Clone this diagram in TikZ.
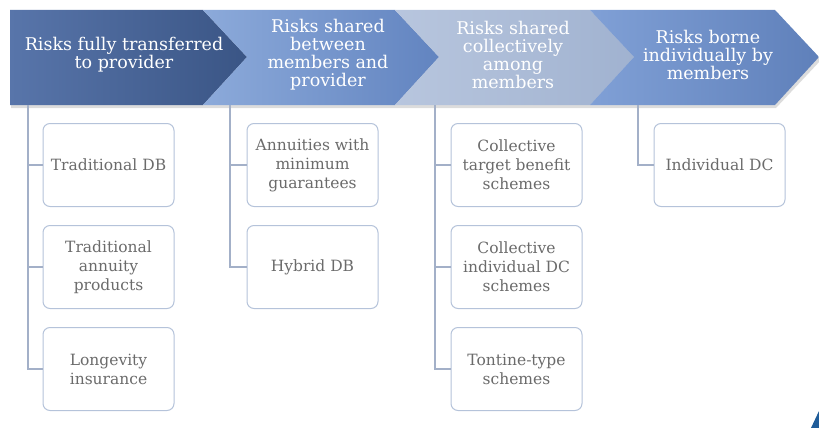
\documentclass[tikz,border=0pt]{standalone}
\usepackage{fontspec}
\setmainfont{DejaVu Serif}

\definecolor{boxline}{HTML}{B5C3DA}
\definecolor{itemtext}{HTML}{6B6B6B}
\definecolor{tieline}{HTML}{A3B0C8}
\definecolor{logoblue}{HTML}{1F5C99}

\begin{document}
\begin{tikzpicture}[
        x=1pt, y=-1pt,
        chevron/.style={draw=none},
        header/.style={text=white, align=center, font=\fontsize{17.5}{18}\selectfont},
        item/.style={rectangle, draw=boxline, line width=1pt, fill=white, rounded corners=7pt, minimum width=131pt, minimum height=83pt, align=center, text=itemtext, font=\fontsize{15.5}{19}\selectfont},
        tie/.style={draw=tieline, line width=1.2pt}
    ]
        \useasboundingbox (0,0) rectangle (819,428);
        \clip (0,0) rectangle (819,428);

        % Header band
        \fill[gray!60, opacity=0.45] (11,13) -- (776,13) -- (821,60) -- (776,108) -- (11,108) -- cycle;
        \shade[chevron, left color={rgb,255:red,88;green,117;blue,170}, right color={rgb,255:red,58;green,85;blue,133}]
            (10,10) -- (203,10) -- (247,57) -- (203,105) -- (10,105) -- cycle;
        \shade[chevron, left color={rgb,255:red,140;green,170;blue,218}, right color={rgb,255:red,98;green,132;blue,192}]
            (203,10) -- (395,10) -- (439,57) -- (395,105) -- (203,105) -- (247,57) -- cycle;
        \shade[chevron, left color={rgb,255:red,184;green,198;blue,222}, right color={rgb,255:red,160;green,178;blue,208}]
            (395,10) -- (590,10) -- (634,57) -- (590,105) -- (395,105) -- (439,57) -- cycle;
        \shade[chevron, left color={rgb,255:red,128;green,160;blue,214}, right color={rgb,255:red,95;green,128;blue,186}]
            (590,10) -- (775,10) -- (819,57) -- (775,105) -- (590,105) -- (634,57) -- cycle;

        \node[header] (h1) at (124,55) {Risks fully transferred\\to provider};
        \node[header] (h2) at (328,55) {Risks shared\\between\\members and\\provider};
        \node[header] (h3) at (513,55) {Risks shared\\collectively\\among\\members};
        \node[header] (h4) at (708,55) {Risks borne\\individually by\\members};

        % Column 1: fully transferred
        \coordinate (col1) at (28,105);
        \node[item] (tradDB) at (108.5,165) {Traditional DB};
        \node[item] (tradAnnuity) at (108.5,267) {Traditional\\annuity\\products};
        \node[item] (longevity) at (108.5,369) {Longevity\\insurance};
        \draw[tie] (col1) |- (tradDB.west);
        \draw[tie] (col1) |- (tradAnnuity.west);
        \draw[tie] (col1) |- (longevity.west);

        % Column 2: shared with provider
        \coordinate (col2) at (230,105);
        \node[item] (minGuar) at (312.5,165) {Annuities with\\minimum\\guarantees};
        \node[item] (hybridDB) at (312.5,267) {Hybrid DB};
        \draw[tie] (col2) |- (minGuar.west);
        \draw[tie] (col2) |- (hybridDB.west);

        % Column 3: shared collectively
        \coordinate (col3) at (435,105);
        \node[item] (targetBen) at (516.5,165) {Collective\\target benefit\\schemes};
        \node[item] (collDC) at (516.5,267) {Collective\\individual DC\\schemes};
        \node[item] (tontine) at (516.5,369) {Tontine-type\\schemes};
        \draw[tie] (col3) |- (targetBen.west);
        \draw[tie] (col3) |- (collDC.west);
        \draw[tie] (col3) |- (tontine.west);

        % Column 4: borne by members
        \coordinate (col4) at (638,105);
        \node[item] (indivDC) at (719.5,165) {Individual DC};
        \draw[tie] (col4) |- (indivDC.west);

        % Corner mark
        \fill[logoblue] (811,428) -- (819,411) -- (819,428) -- cycle;

    \end{tikzpicture}
\end{document}
